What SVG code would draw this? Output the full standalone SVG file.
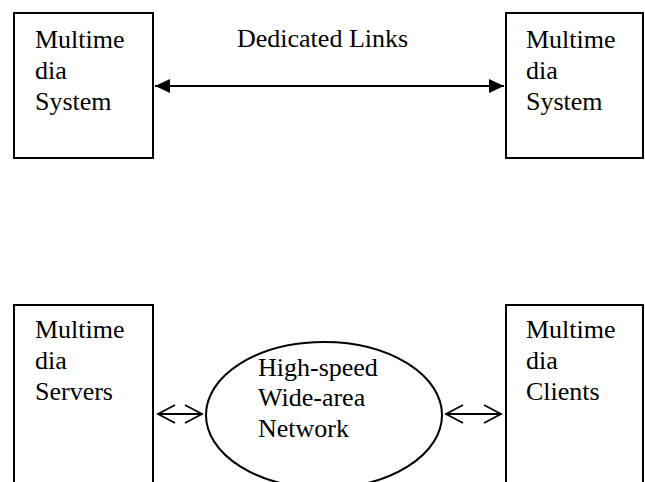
<svg xmlns="http://www.w3.org/2000/svg" width="645" height="482" viewBox="0 0 645 482">
  <style>
    .box { fill: #ffffff; stroke: #000000; stroke-width: 2; }
    .oval { fill: #ffffff; stroke: #000000; stroke-width: 2; }
    .lbl { font-family: "Liberation Serif", "Times New Roman", serif; font-size: 26px; fill: #000000; }
    .link { stroke: #000000; stroke-width: 2; fill: none; }
    .thin { stroke: #000000; stroke-width: 1.8; fill: none; }
  </style>
  <defs>
    <marker id="solidHead" viewBox="0 0 15 14" refX="15" refY="7" markerWidth="15" markerHeight="14" markerUnits="userSpaceOnUse" orient="auto-start-reverse">
      <path d="M0,0 L15,7 L0,14 Z" fill="#000000"/>
    </marker>
  </defs>

  <rect width="645" height="482" fill="#ffffff"/>

  <!-- top row: two systems joined by a dedicated link -->
  <g id="system-left">
    <rect class="box" x="14" y="13" width="139" height="145"/>
    <text class="lbl" x="35" y="48">Multime</text>
    <text class="lbl" x="35" y="79">dia</text>
    <text class="lbl" x="35" y="110">System</text>
  </g>
  <g id="system-right">
    <rect class="box" x="506" y="13" width="137" height="145"/>
    <text class="lbl" x="526" y="48">Multime</text>
    <text class="lbl" x="526" y="79">dia</text>
    <text class="lbl" x="526" y="110">System</text>
  </g>

  <!-- bottom row: servers and clients around the network -->
  <g id="servers">
    <rect class="box" x="14" y="305" width="139" height="200"/>
    <text class="lbl" x="35" y="338">Multime</text>
    <text class="lbl" x="35" y="369">dia</text>
    <text class="lbl" x="35" y="400">Servers</text>
  </g>
  <g id="network">
    <ellipse class="oval" cx="324" cy="415" rx="118" ry="73"/>
    <text class="lbl" x="258" y="376">High-speed</text>
    <text class="lbl" x="258" y="406">Wide-area</text>
    <text class="lbl" x="258" y="437">Network</text>
  </g>
  <g id="clients">
    <rect class="box" x="506" y="305" width="137" height="200"/>
    <text class="lbl" x="526" y="338">Multime</text>
    <text class="lbl" x="526" y="369">dia</text>
    <text class="lbl" x="526" y="400">Clients</text>
  </g>

  <g id="connectors">
    <line class="link" x1="155" y1="86" x2="504" y2="86" marker-start="url(#solidHead)" marker-end="url(#solidHead)"/>
    <text class="lbl" x="237" y="47">Dedicated Links</text>

    <!-- servers to network -->
    <line class="thin" x1="158" y1="414" x2="202" y2="414"/>
    <polyline class="thin" points="175,405 158,414 175,423"/>
    <polyline class="thin" points="185,405 202,414 185,423"/>

    <!-- network to clients -->
    <line class="thin" x1="446" y1="414" x2="501" y2="414"/>
    <polyline class="thin" points="463,405 446,414 463,423"/>
    <polyline class="thin" points="484,405 501,414 484,423"/>
  </g>
</svg>
